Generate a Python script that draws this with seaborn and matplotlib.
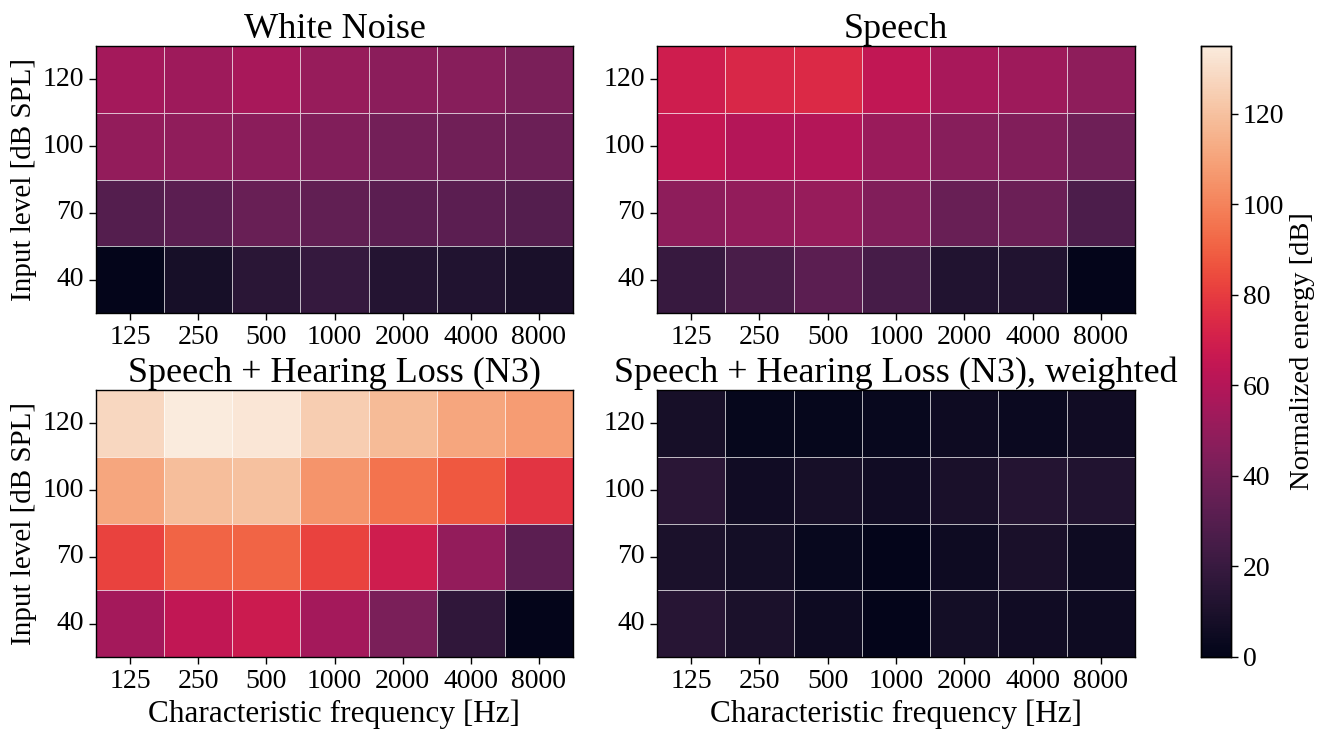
import numpy as np
import pandas as pd
import matplotlib
matplotlib.use("Agg")
import matplotlib.pyplot as plt
import seaborn as sns

freqs = ["125", "250", "500", "1000", "2000", "4000", "8000"]
levels = ["120", "100", "70", "40"]

white_noise = [
    [55, 53, 56, 51, 47, 46, 42],
    [50, 49, 47, 44, 40, 39, 37],
    [30, 32, 36, 34, 32, 32, 30],
    [1, 8, 15, 19, 13, 12, 9],
]
speech = [
    [69, 73, 74, 64, 56, 53, 48],
    [65, 60, 60, 52, 46, 44, 38],
    [48, 50, 51, 44, 36, 37, 27],
    [20, 26, 32, 25, 12, 12, 1],
]
speech_hl = [
    [128, 135, 133, 124, 118, 111, 108],
    [111, 119, 120, 105, 95, 88, 78],
    [82, 91, 91, 82, 69, 50, 32],
    [55, 64, 68, 55, 42, 17, 1],
]
speech_hl_w = [
    [8, 2, 2, 3, 5, 4, 6],
    [15, 6, 8, 6, 9, 13, 12],
    [10, 7, 3, 1, 5, 9, 5],
    [14, 10, 5, 1, 7, 6, 5],
]
titles = ["White Noise", "Speech", "Speech + Hearing Loss (N3)",
          "Speech + Hearing Loss (N3), weighted"]

sns.set_style("ticks")
plt.rcParams["font.family"] = ["Liberation Serif", "DejaVu Serif"]
plt.rcParams["text.color"] = "black"
plt.rcParams["axes.labelcolor"] = "black"
plt.rcParams["xtick.color"] = "black"
plt.rcParams["ytick.color"] = "black"

fig = plt.figure(figsize=(13.29, 7.38), dpi=100)
W, H = 1329, 738

def rect(x0, y0, x1, y1):
    return [x0 / W, (H - y1) / H, (x1 - x0) / W, (y1 - y0) / H]

positions = [rect(96, 46, 573, 313), rect(657, 46, 1135, 313),
             rect(96, 390, 573, 657), rect(657, 390, 1135, 657)]
cax = fig.add_axes(rect(1201, 46, 1231, 657))

vmin, vmax = 0, 135
datasets = [white_noise, speech, speech_hl, speech_hl_w]
for i, (data, title, pos) in enumerate(zip(datasets, titles, positions)):
    ax = fig.add_axes(pos)
    df = pd.DataFrame(data, index=levels, columns=freqs)
    sns.heatmap(df, ax=ax, cmap="rocket", vmin=vmin, vmax=vmax,
                linewidths=0.6, linecolor=(1, 1, 1, 0.7),
                cbar=(i == 0), cbar_ax=cax if i == 0 else None)
    for s in ax.spines.values():
        s.set_visible(True)
        s.set_color("black")
        s.set_linewidth(1.0)
    ax.set_title(title, fontsize=26, pad=4, color="black")
    ax.tick_params(axis="both", labelsize=20, length=5, width=1, color="black")
    ax.set_yticklabels(levels, rotation=0)
    ax.set_xticklabels(freqs, rotation=0)
    if i % 2 == 0:
        ax.set_ylabel("Input level [dB SPL]", fontsize=21)
    else:
        ax.set_ylabel("")
    if i >= 2:
        ax.set_xlabel("Characteristic frequency [Hz]", fontsize=22.5)
    else:
        ax.set_xlabel("")

cax.tick_params(labelsize=20, length=5, width=1, color="black")
cax.set_ylabel("Normalized energy [dB]", fontsize=20.5)
cax.set_yticks([0, 20, 40, 60, 80, 100, 120])
for s in cax.spines.values():
    s.set_visible(True)
    s.set_color("black")
    s.set_linewidth(1.0)

fig.savefig("out.png", dpi=100)
